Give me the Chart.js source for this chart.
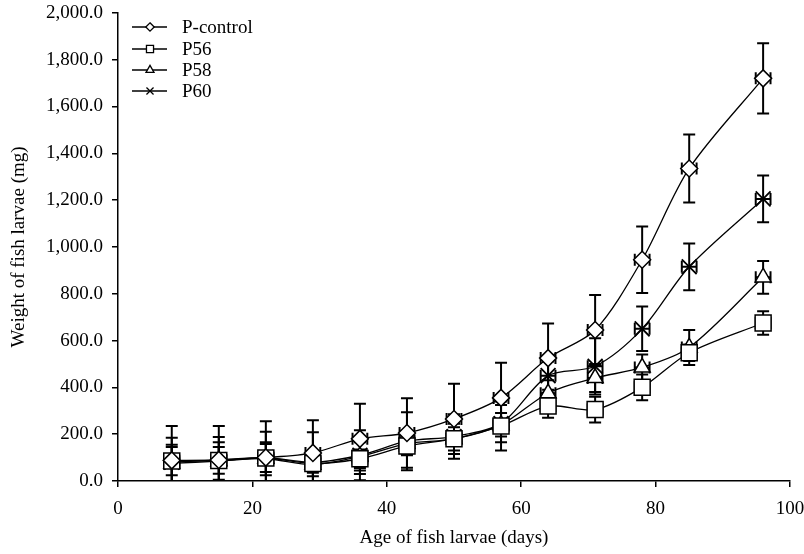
<!DOCTYPE html>
<html><head><meta charset="utf-8">
<script src="https://cdn.jsdelivr.net/npm/chart.js@4.4.0/dist/chart.umd.min.js"></script>
<style>html,body{margin:0;padding:0;background:#fff;overflow:hidden}#wrap{width:804px;height:554px;position:relative}canvas{display:block}</style>
</head><body><div id="wrap"><canvas id="c"></canvas></div>
<script>
// ---- data ----
const days = [8, 15, 22, 29, 36, 43, 50, 57, 64, 71, 78, 85, 96];
const seriesNames = ['P-control', 'P56', 'P58', 'P60'];
const pControl = [88, 90, 100, 120, 180, 205, 265, 355, 525, 645, 945, 1335, 1720];
const p56 = [85, 88, 98, 75, 95, 150, 180, 235, 320, 305, 400, 548, 675];
const p58 = [75, 85, 95, 70, 105, 160, 180, 240, 375, 440, 485, 570, 870];
const p60 = [80, 90, 100, 80, 110, 170, 190, 245, 450, 490, 650, 915, 1205];
const pControlSd = [147, 145, 155, 140, 150, 148, 150, 150, 148, 150, 142, 145, 150];
const p56Sd = [60, 57, 60, 40, 40, 40, 50, 105, 50, 55, 55, 35, 50];
const p58Sd = [80, 80, 70, 50, 60, 45, 65, 50, 55, 60, 55, 75, 70];
const p60Sd = [105, 98, 110, 128, 107, 124, 95, 80, 60, 120, 95, 100, 100];
const daySd = 1.1;
const xTicks = [0, 20, 40, 60, 80, 100];
const yTicks = [0, 200, 400, 600, 800, 1000, 1200, 1400, 1600, 1800, 2000];

const FONT = 'Liberation Serif';
const values = [pControl, p56, p58, p60];
const sds = [pControlSd, p56Sd, p58Sd, p60Sd];
const styles = [
  {ps: 'rectRot', r: 8.5, lr: 4.2},
  {ps: 'rect', r: 11.3, lr: 5},
  {ps: 'triangle', r: 9.2, lr: 4.6},
  {ps: 'crossRot', r: 10.5, lr: 5}
];

function drawMarker(ctx, style, x, y, r) {
  ctx.beginPath();
  if (style === 'rectRot') {
    ctx.moveTo(x, y - r); ctx.lineTo(x + r, y); ctx.lineTo(x, y + r); ctx.lineTo(x - r, y); ctx.closePath();
    ctx.fill(); ctx.stroke();
  } else if (style === 'rect') {
    const s = r * Math.SQRT1_2;
    ctx.rect(x - s, y - s, 2 * s, 2 * s); ctx.fill(); ctx.stroke();
  } else if (style === 'triangle') {
    for (let k = 0; k < 3; k++) {
      const a = k * 2 * Math.PI / 3;
      const px = x + Math.sin(a) * r, py = y - Math.cos(a) * r;
      if (k === 0) ctx.moveTo(px, py); else ctx.lineTo(px, py);
    }
    ctx.closePath(); ctx.fill(); ctx.stroke();
  } else {
    const s = r * Math.SQRT1_2;
    ctx.moveTo(x - s, y - s); ctx.lineTo(x + s, y + s);
    ctx.moveTo(x + s, y - s); ctx.lineTo(x - s, y + s); ctx.stroke();
  }
}

const errorBars = {
  id: 'errorBars',
  beforeDatasetsDraw(chart) {
    const ctx = chart.ctx, xs = chart.scales.x, ys = chart.scales.y, a = chart.chartArea;
    ctx.save();
    ctx.beginPath(); ctx.rect(a.left, a.top - 1, a.right - a.left, a.bottom - a.top + 1); ctx.clip();
    ctx.strokeStyle = '#000'; ctx.lineWidth = 2;
    values.forEach((vals, si) => {
      vals.forEach((v, i) => {
        const px = xs.getPixelForValue(days[i]);
        const py = ys.getPixelForValue(v);
        const t = ys.getPixelForValue(v + sds[si][i]);
        const b = ys.getPixelForValue(v - sds[si][i]);
        const l = xs.getPixelForValue(days[i] - daySd);
        const rr = xs.getPixelForValue(days[i] + daySd);
        ctx.beginPath();
        ctx.moveTo(px, t); ctx.lineTo(px, b);
        ctx.moveTo(px - 6, t); ctx.lineTo(px + 6, t);
        ctx.moveTo(px - 6, b); ctx.lineTo(px + 6, b);
        ctx.moveTo(l, py); ctx.lineTo(rr, py);
        ctx.moveTo(l, py - 6); ctx.lineTo(l, py + 6);
        ctx.moveTo(rr, py - 6); ctx.lineTo(rr, py + 6);
        ctx.stroke();
      });
    });
    ctx.restore();
  }
};

const legendBox = {
  id: 'legendBox',
  afterDraw(chart) {
    const ctx = chart.ctx;
    const rows = [27, 49, 70, 91];
    ctx.save();
    ctx.font = '19px "' + FONT + '"';
    ctx.textBaseline = 'middle';
    ctx.fillStyle = '#000';
    seriesNames.forEach((n, i) => {
      const y = rows[i];
      ctx.strokeStyle = '#000'; ctx.lineWidth = 1.3;
      ctx.beginPath(); ctx.moveTo(132, y); ctx.lineTo(167, y); ctx.stroke();
      ctx.fillStyle = '#fff'; ctx.lineWidth = 1.3;
      drawMarker(ctx, styles[i].ps, 150, y, styles[i].lr);
      ctx.fillStyle = '#000';
      ctx.fillText(n, 182, y + 1);
    });
    ctx.restore();
  }
};

const datasets = values.map((vals, si) => ({
  label: seriesNames[si],
  data: vals.map((v, i) => ({x: days[i], y: v})),
  showLine: true,
  borderColor: '#000',
  borderWidth: 1.3,
  tension: 0.3,
  pointStyle: styles[si].ps,
  pointRadius: styles[si].r,
  pointHoverRadius: styles[si].r,
  pointBackgroundColor: '#fff',
  pointBorderColor: '#000',
  pointBorderWidth: si === 3 ? 1.8 : 1.5,
  order: si
}));

new Chart(document.getElementById('c'), {
  type: 'scatter',
  data: {datasets},
  options: {
    responsive: true, maintainAspectRatio: false, animation: false,
    devicePixelRatio: 1,
    layout: {padding: {left: 0, right: 14, top: 11, bottom: 0}},
    plugins: {legend: {display: false}, tooltip: {enabled: false}},
    scales: {
      x: {
        type: 'linear', min: 0, max: 100,
        afterBuildTicks(s) { s.ticks = xTicks.map(v => ({value: v})); },
        afterFit(s) { s.height = 73; s.paddingLeft = 0; s.paddingRight = 0; },
        grid: {display: true, drawOnChartArea: false, drawTicks: true, tickLength: 6, color: '#000', lineWidth: 1.5},
        border: {display: true, color: '#000', width: 1.5},
        ticks: {color: '#000', font: {family: FONT, size: 19}, padding: 11, maxRotation: 0},
        title: {display: true, text: 'Age of fish larvae (days)', color: '#000', font: {family: FONT, size: 19}, padding: {top: 0, bottom: 5}}
      },
      y: {
        min: 0, max: 2000,
        afterBuildTicks(s) { s.ticks = yTicks.map(v => ({value: v})); },
        afterFit(s) { s.width = 118; s.paddingTop = 0; s.paddingBottom = 0; },
        grid: {display: true, drawOnChartArea: false, drawTicks: true, tickLength: 6, color: '#000', lineWidth: 1.5},
        border: {display: true, color: '#000', width: 1.5},
        ticks: {color: '#000', font: {family: FONT, size: 19}, padding: 9,
          callback: v => Number(v).toLocaleString('en-US', {minimumFractionDigits: 1, maximumFractionDigits: 1})},
        title: {display: true, text: 'Weight of fish larvae (mg)', color: '#000', font: {family: FONT, size: 19}, padding: {top: 8, bottom: 0}}
      }
    }
  },
  plugins: [errorBars, legendBox]
});
</script>
</body></html>
